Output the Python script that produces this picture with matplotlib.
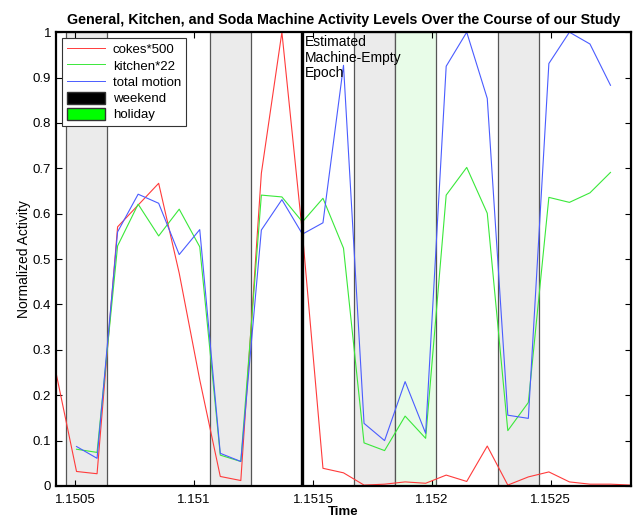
import matplotlib
matplotlib.use("Agg")
import matplotlib.pyplot as plt
from matplotlib.patches import Patch
from matplotlib.lines import Line2D
from matplotlib.ticker import FuncFormatter, MultipleLocator

plt.rcParams["font.family"] = ["Liberation Sans", "DejaVu Sans"]

# time (unix seconds / 1e9), one sample per day
times = [1.1504190, 1.1505054, 1.1505918, 1.1506782, 1.1507646, 1.1508510,
         1.1509374, 1.1510238, 1.1511102, 1.1511966, 1.1512830, 1.1513694,
         1.1514558, 1.1515422, 1.1516286, 1.1517150, 1.1518014, 1.1518878,
         1.1519742, 1.1520606, 1.1521470, 1.1522334, 1.1523198, 1.1524062,
         1.1524926, 1.1525790, 1.1526654, 1.1527518, 1.1528382]

cokes = [0.250, 0.032, 0.027, 0.571, 0.619, 0.667, 0.469, 0.234, 0.021, 0.012,
         0.689, 1.000, 0.557, 0.039, 0.029, 0.002, 0.004, 0.009, 0.006, 0.024,
         0.010, 0.088, 0.002, 0.020, 0.031, 0.009, 0.004, 0.004, 0.002]

nan = float("nan")
kitchen = [nan, 0.081, 0.074, 0.529, 0.621, 0.551, 0.610, 0.527, 0.068, 0.054,
           0.641, 0.637, 0.582, 0.634, 0.524, 0.095, 0.078, 0.154, 0.105, 0.641,
           0.702, 0.601, 0.122, 0.184, 0.636, 0.625, 0.646, 0.691, nan]

motion = [nan, 0.087, 0.061, 0.560, 0.643, 0.623, 0.510, 0.565, 0.072, 0.054,
          0.564, 0.631, 0.555, 0.580, 0.927, 0.138, 0.100, 0.230, 0.116, 0.925,
          1.000, 0.854, 0.156, 0.149, 0.931, 1.000, 0.974, 0.883, nan]

weekend_starts = [1.1504622, 1.1510670, 1.1516718, 1.1522766]
holiday_starts = [1.1518446]
span_width = 0.0001728
empty_epoch = 1.151453

fig = plt.figure(figsize=(6.34, 5.21), dpi=100)
ax = fig.add_axes([0.0883, 0.0672, 0.907, 0.871])

for s in weekend_starts:
    ax.axvspan(s, s + span_width, facecolor="#ebebeb", edgecolor="#555555",
               linewidth=0.9, zorder=0)
for s in holiday_starts:
    ax.axvspan(s, s + span_width, facecolor="#e8fce8", edgecolor="#555555",
               linewidth=0.9, zorder=0)

ax.plot(times, cokes, color="#ff3b3b", lw=0.8)
ax.plot(times, kitchen, color="#3ae83a", lw=0.8)
ax.plot(times, motion, color="#4a5cff", lw=0.8)

ax.axvline(empty_epoch, color="black", lw=2.4)
ax.text(empty_epoch + 0.000012, 0.993, "Estimated\nMachine-Empty\nEpoch",
        va="top", ha="left", fontsize=10, linespacing=1.12)

ax.set_xlim(times[0], times[-1])
ax.set_ylim(0, 1)
ax.xaxis.set_major_locator(MultipleLocator(0.0005))
ax.yaxis.set_major_locator(MultipleLocator(0.1))
fmt = FuncFormatter(lambda v, _: f"{round(v, 6):g}")
ax.xaxis.set_major_formatter(fmt)
ax.yaxis.set_major_formatter(fmt)
ax.tick_params(direction="in", top=True, right=True, labelsize=9.5, length=4)
ax.tick_params(axis="x", pad=6)
for sp in ax.spines.values():
    sp.set_linewidth(1.6)

ax.set_title("General, Kitchen, and Soda Machine Activity Levels Over the Course of our Study",
             fontsize=10.3, fontweight="bold", pad=6)
ax.set_xlabel("Time", fontsize=9.5, fontweight="bold", labelpad=0)
ax.set_ylabel("Normalized Activity", fontsize=10, labelpad=1)

handles = [Line2D([], [], color="#ff3b3b", lw=0.7),
           Line2D([], [], color="#3ae83a", lw=0.7),
           Line2D([], [], color="#4a5cff", lw=0.7),
           Patch(facecolor="black", edgecolor="#333333"),
           Patch(facecolor="#00ff00", edgecolor="#333333")]
labels = ["cokes*500", "kitchen*22", "total motion", "weekend", "holiday"]
leg = ax.legend(handles, labels, loc="upper left", fontsize=9.5,
                fancybox=False, framealpha=1, edgecolor="#333333",
                handlelength=2.9, handleheight=1.0, labelspacing=0.22,
                handletextpad=0.6, borderaxespad=0.45, borderpad=0.35)
leg.get_frame().set_linewidth(0.8)

fig.savefig("out.png", dpi=100)
